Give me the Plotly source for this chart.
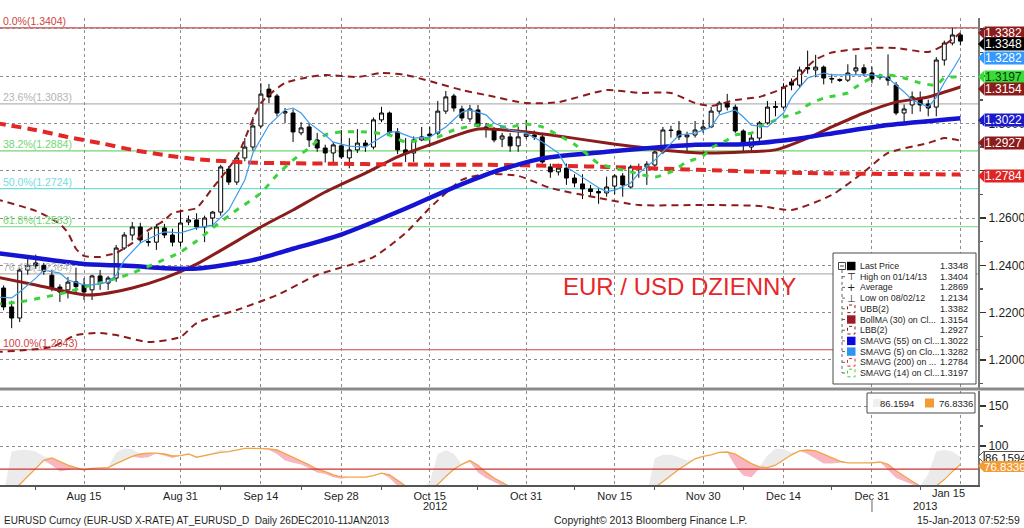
import numpy as np
import pandas as pd
import plotly.graph_objects as go

# ---------------- DATA ----------------
trading_days = pd.bdate_range("2012-07-31", "2013-01-15")
day_pos = {d.strftime("%Y-%m-%d"): k - 1 for k, d in enumerate(trading_days)}
candle_dates = [d.strftime("%Y-%m-%d") for d in trading_days[1:]]

opens = [1.2304,1.2224,1.2177,1.2380,1.2410,1.2400,1.2358,1.2308,1.2296,1.2330,
         1.2317,1.2296,1.2355,1.2325,1.2346,1.2473,1.2528,1.2562,1.2500,1.2498,
         1.2558,1.2528,1.2498,1.2583,1.2592,1.2562,1.2600,1.2625,1.2807,1.2752,
         1.2854,1.2900,1.2989,1.3145,1.3116,1.3044,1.3044,1.2960,1.2985,1.2930,
         1.2896,1.2875,1.2905,1.2854,1.2888,1.2917,1.2900,1.3015,1.3044,1.2964,
         1.2888,1.2875,1.2930,1.2955,1.2959,1.3052,1.3116,1.3061,1.3019,1.3057,
         1.2985,1.2976,1.2934,1.2943,1.2905,1.2945,1.2951,1.2943,1.2816,1.2795,
         1.2811,1.2769,1.2744,1.2723,1.2712,1.2706,1.2735,1.2778,1.2731,1.2816,
         1.2816,1.2824,1.2879,1.2972,1.2968,1.2943,1.2951,1.2976,1.2985,1.3052,
         1.3086,1.3069,1.2968,1.2900,1.2938,1.3002,1.3072,1.3069,1.3175,1.3162,
         1.3236,1.3226,1.3238,1.3190,1.3186,1.3183,1.3222,1.3235,1.3213,1.3196,
         1.3195,1.3162,1.3044,1.3078,1.3107,1.3082,1.3069,1.3268,1.3340,1.3374]
highs = [1.2315,1.2250,1.2390,1.2435,1.2445,1.2410,1.2380,1.2320,1.2350,1.2390,
         1.2346,1.2360,1.2380,1.2355,1.2486,1.2540,1.2583,1.2580,1.2540,1.2575,
         1.2575,1.2555,1.2636,1.2610,1.2620,1.2610,1.2630,1.2825,1.2820,1.2866,
         1.2938,1.3027,1.3170,1.3167,1.3125,1.3065,1.3060,1.3005,1.3000,1.2960,
         1.2910,1.2921,1.2972,1.2938,1.2976,1.2930,1.3025,1.3070,1.3050,1.2980,
         1.2938,1.2945,1.2985,1.2985,1.3095,1.3137,1.3125,1.3075,1.3078,1.3078,
         1.3002,1.2985,1.2960,1.2960,1.2985,1.3015,1.2970,1.2960,1.2830,1.2830,
         1.2830,1.2785,1.2785,1.2740,1.2725,1.2775,1.2785,1.2790,1.2825,1.2830,
         1.2840,1.2885,1.2985,1.2990,1.3010,1.2965,1.3010,1.3015,1.3070,1.3095,
         1.3125,1.3080,1.2975,1.2955,1.3010,1.3095,1.3095,1.3170,1.3190,1.3240,
         1.3308,1.3290,1.3245,1.3210,1.3190,1.3250,1.3290,1.3250,1.3240,1.3210,
         1.3292,1.3175,1.3080,1.3135,1.3135,1.3100,1.3280,1.3350,1.3404,1.3382]
lows = [1.2210,1.2134,1.2160,1.2360,1.2385,1.2360,1.2290,1.2245,1.2260,1.2287,
        1.2253,1.2253,1.2296,1.2296,1.2330,1.2465,1.2505,1.2495,1.2480,1.2465,
        1.2515,1.2480,1.2480,1.2570,1.2550,1.2498,1.2562,1.2610,1.2740,1.2740,
        1.2840,1.2885,1.2980,1.3086,1.3030,1.3002,1.2921,1.2950,1.2900,1.2880,
        1.2835,1.2835,1.2850,1.2810,1.2875,1.2880,1.2890,1.3005,1.2950,1.2870,
        1.2837,1.2837,1.2925,1.2900,1.2950,1.3040,1.3050,1.3010,1.3005,1.2985,
        1.2940,1.2920,1.2900,1.2880,1.2880,1.2935,1.2930,1.2830,1.2770,1.2780,
        1.2740,1.2730,1.2680,1.2690,1.2660,1.2690,1.2700,1.2690,1.2725,1.2770,
        1.2740,1.2810,1.2870,1.2940,1.2930,1.2880,1.2940,1.2960,1.2980,1.3040,
        1.3055,1.2960,1.2880,1.2880,1.2925,1.2995,1.3030,1.3060,1.3140,1.3150,
        1.3210,1.3195,1.3165,1.3170,1.3175,1.3175,1.3205,1.3200,1.3170,1.3185,
        1.3160,1.3035,1.2997,1.3040,1.3050,1.3030,1.3030,1.3245,1.3330,1.3330]
closes = [1.2224,1.2177,1.2380,1.2400,1.2398,1.2375,1.2304,1.2287,1.2329,1.2310,
          1.2287,1.2355,1.2329,1.2346,1.2473,1.2528,1.2562,1.2507,1.2498,1.2562,
          1.2528,1.2498,1.2579,1.2592,1.2562,1.2600,1.2625,1.2816,1.2752,1.2854,
          1.2900,1.2989,1.3124,1.3112,1.3044,1.3050,1.2964,1.2981,1.2930,1.2896,
          1.2875,1.2909,1.2858,1.2888,1.2917,1.2905,1.3015,1.3044,1.2963,1.2888,
          1.2875,1.2930,1.2943,1.2947,1.3052,1.3112,1.3065,1.3023,1.3061,1.2989,
          1.2976,1.2930,1.2947,1.2905,1.2943,1.2955,1.2942,1.2837,1.2795,1.2811,
          1.2769,1.2748,1.2723,1.2712,1.2706,1.2731,1.2778,1.2740,1.2816,1.2814,
          1.2828,1.2879,1.2972,1.2970,1.2943,1.2951,1.2972,1.2985,1.3052,1.3086,
          1.3069,1.2968,1.2917,1.2938,1.3002,1.3069,1.3068,1.3154,1.3162,1.3226,
          1.3230,1.3238,1.3192,1.3188,1.3182,1.3213,1.3235,1.3213,1.3188,1.3194,
          1.3183,1.3044,1.3061,1.3112,1.3078,1.3065,1.3268,1.3340,1.3374,1.3348]

sma200_dates = ["2012-07-31","2012-08-07","2012-08-13","2012-08-17","2012-08-23","2012-08-29",
                "2012-09-04","2012-09-12","2012-09-26","2012-10-10","2012-10-24","2012-11-07",
                "2012-11-14","2012-11-28","2012-12-19","2013-01-15"]
sma200_vals = [1.3002,1.2972,1.2942,1.2917,1.2888,1.2866,1.2849,1.2835,1.2830,1.2826,
               1.2825,1.2820,1.2816,1.2805,1.2790,1.2784]

sma55_dates = ["2012-07-31","2012-08-07","2012-08-15","2012-08-23","2012-08-29","2012-09-04",
               "2012-09-13","2012-09-20","2012-09-28","2012-10-10","2012-10-17","2012-10-25",
               "2012-11-02","2012-11-14","2012-11-21","2012-11-29","2012-12-07","2012-12-17",
               "2012-12-25","2013-01-02","2013-01-15"]
sma55_vals = [1.2452,1.2431,1.2406,1.2397,1.2388,1.2386,1.2422,1.2470,1.2530,1.2640,
              1.2715,1.2795,1.2852,1.2880,1.2895,1.2910,1.2912,1.2932,1.2963,1.2993,1.3022]

bollma_dates = ["2012-07-31","2012-08-07","2012-08-13","2012-08-15","2012-08-17","2012-08-23",
                "2012-08-29","2012-09-04","2012-09-14","2012-09-20","2012-09-26","2012-10-03",
                "2012-10-09","2012-10-15","2012-10-23","2012-10-31","2012-11-07","2012-11-14",
                "2012-11-23","2012-11-30","2012-12-07","2012-12-13","2012-12-19","2012-12-24",
                "2012-12-28","2013-01-03","2013-01-09","2013-01-15"]
bollma_vals = [1.2351,1.2317,1.2287,1.2275,1.2278,1.2304,1.2346,1.2405,1.2562,1.2634,
               1.2710,1.2790,1.2858,1.2909,1.2976,1.2964,1.2942,1.2917,1.2888,1.2875,
               1.2879,1.2888,1.2938,1.2985,1.3044,1.3090,1.3112,1.3154]

ubb_dates = ["2012-07-31","2012-08-07","2012-08-10","2012-08-13","2012-08-14","2012-08-15",
             "2012-08-17","2012-08-20","2012-08-21","2012-08-23","2012-08-27","2012-08-29",
             "2012-08-30","2012-09-03","2012-09-04","2012-09-06","2012-09-11","2012-09-14",
             "2012-09-19","2012-09-24","2012-09-26","2012-10-02","2012-10-05","2012-10-10",
             "2012-10-19","2012-10-24","2012-10-31","2012-11-06","2012-11-14","2012-11-20",
             "2012-11-26","2012-11-29","2012-12-03","2012-12-06","2012-12-11","2012-12-14",
             "2012-12-18","2012-12-19","2012-12-20","2012-12-24","2012-12-26","2012-12-31",
             "2013-01-03","2013-01-09","2013-01-11","2013-01-15"]
ubb_vals = [1.2680,1.2630,1.2575,1.2537,1.2470,1.2440,1.2435,1.2444,1.2452,1.2494,
            1.2549,1.2590,1.2621,1.2634,1.2642,1.2727,1.2858,1.3086,1.3171,1.3196,
            1.3205,1.3196,1.3213,1.3205,1.3141,1.3120,1.3086,1.3090,1.3141,1.3129,
            1.3129,1.3086,1.3074,1.3099,1.3112,1.3150,1.3200,1.3240,1.3270,1.3300,
            1.3310,1.3319,1.3319,1.3302,1.3332,1.3382]

lbb_dates = ["2012-07-31","2012-08-09","2012-08-14","2012-08-17","2012-08-21","2012-08-27",
             "2012-08-31","2012-09-04","2012-09-11","2012-09-18","2012-09-25","2012-10-04",
             "2012-10-10","2012-10-15","2012-10-19","2012-10-24","2012-10-30","2012-11-05",
             "2012-11-13","2012-11-20","2012-11-30","2012-12-11","2012-12-17","2012-12-24",
             "2012-12-28","2013-01-02","2013-01-09","2013-01-11","2013-01-15"]
lbb_vals = [1.2033,1.2055,1.2105,1.2114,1.2105,1.2076,1.2097,1.2156,1.2211,1.2274,
            1.2359,1.2435,1.2537,1.2642,1.2761,1.2786,1.2778,1.2727,1.2685,1.2655,
            1.2655,1.2651,1.2634,1.2697,1.2795,1.2875,1.2917,1.2938,1.2927]

sma14_dates = ["2012-07-31","2012-08-03","2012-08-13","2012-08-15","2012-08-20","2012-08-23",
               "2012-08-28","2012-08-31","2012-09-04","2012-09-06","2012-09-11","2012-09-14",
               "2012-09-18","2012-09-20","2012-09-24","2012-09-26","2012-09-28","2012-10-03",
               "2012-10-08","2012-10-10","2012-10-12","2012-10-16","2012-10-18","2012-10-23",
               "2012-10-29","2012-10-31","2012-11-02","2012-11-06","2012-11-08","2012-11-09",
               "2012-11-12","2012-11-13","2012-11-15","2012-11-19","2012-11-22","2012-11-26",
               "2012-11-27","2012-11-28","2012-11-30","2012-12-03","2012-12-05","2012-12-06",
               "2012-12-10","2012-12-11","2012-12-13","2012-12-14","2012-12-18","2012-12-19",
               "2012-12-21","2012-12-26","2012-12-27","2012-12-31","2013-01-02","2013-01-04",
               "2013-01-08","2013-01-10","2013-01-11","2013-01-15"]
sma14_vals = [1.2236,1.2245,1.2287,1.2308,1.2334,1.2367,1.2410,1.2456,1.2503,1.2558,
              1.2634,1.2706,1.2782,1.2845,1.2896,1.2951,1.2964,1.2964,1.2951,1.2921,
              1.2930,1.2942,1.2972,1.2993,1.2985,1.2998,1.2985,1.2950,1.2912,1.2885,
              1.2858,1.2830,1.2811,1.2795,1.2773,1.2795,1.2816,1.2837,1.2862,1.2896,
              1.2930,1.2951,1.2959,1.2985,1.3014,1.3027,1.3048,1.3078,1.3107,1.3129,
              1.3154,1.3192,1.3205,1.3192,1.3171,1.3162,1.3192,1.3197]

sma5_dates = ["2012-07-31","2012-08-02","2012-08-03","2012-08-07","2012-08-08","2012-08-10",
              "2012-08-13","2012-08-15","2012-08-16","2012-08-20","2012-08-21","2012-08-22",
              "2012-08-24","2012-08-28","2012-08-29","2012-08-31","2012-09-04","2012-09-06",
              "2012-09-10","2012-09-12","2012-09-13","2012-09-17","2012-09-19","2012-09-20",
              "2012-09-21","2012-09-24","2012-09-26","2012-09-27","2012-10-01","2012-10-03",
              "2012-10-04","2012-10-08","2012-10-09","2012-10-11","2012-10-15","2012-10-17",
              "2012-10-19","2012-10-22","2012-10-24","2012-10-25","2012-10-29","2012-10-31",
              "2012-11-02","2012-11-06","2012-11-07","2012-11-09","2012-11-13","2012-11-14",
              "2012-11-15","2012-11-19","2012-11-20","2012-11-22","2012-11-26","2012-11-27",
              "2012-11-29","2012-12-03","2012-12-04","2012-12-06","2012-12-07","2012-12-10",
              "2012-12-12","2012-12-14","2012-12-17","2012-12-19","2012-12-21","2012-12-24",
              "2012-12-26","2012-12-28","2012-12-31","2013-01-02","2013-01-04","2013-01-07",
              "2013-01-09","2013-01-10","2013-01-11","2013-01-14","2013-01-15"]
sma5_vals = [1.2266,1.2262,1.2287,1.2346,1.2380,1.2367,1.2338,1.2317,1.2317,1.2329,
             1.2359,1.2422,1.2494,1.2528,1.2541,1.2537,1.2558,1.2570,1.2634,1.2761,
             1.2875,1.2993,1.3057,1.3065,1.3044,1.3002,1.2951,1.2921,1.2904,1.2900,
             1.2921,1.2964,1.2964,1.2938,1.2942,1.2985,1.3048,1.3057,1.3036,1.3002,
             1.2972,1.2959,1.2921,1.2875,1.2816,1.2773,1.2728,1.2712,1.2718,1.2748,
             1.2790,1.2845,1.2917,1.2951,1.2959,1.2985,1.3036,1.3057,1.3027,1.2993,
             1.2985,1.3044,1.3110,1.3192,1.3213,1.3205,1.3205,1.3205,1.3205,1.3192,
             1.3133,1.3099,1.3069,1.3110,1.3173,1.3225,1.3282]

osc_orange = [40,45,52,62,72,82,85,80,76,73,
              70,72,72.5,73,78,83,87,90,91,91,
              90,87.5,88,90,86,88,90,92,93,95,
              97,97,97,96.5,95,90,85,81,76.5,71,
              68,64,61.5,61,61,61,63,66,64,57,
              50,46,45,46,52,62,71,77,82,76,
              67,60,54,49,45,42,40,39,38,38,
              38,38,38,38,38,38,38,38,39,40,
              40,48,55,63,71,78,84,87,89,92,
              92.5,90,84,78,74,73,76,83,89,94,
              95,94,90,86,81,79,79,79,79,80,
              77,69,62,56,50,47,50,58,68,76.8336]
osc_grey = [40,93,95,95,93,87,76,68,70,72,
            70,72,72.5,73.5,92,97,96,85,86,91,
            88,85,88,90,86,89,92,95,94,95,
            97,97,97,95,90,82,79,77,72,67,
            65,61,59,61,61,61,63,66,60,50,
            45,45,47,55,90,95,90,77,80,67,
            60,55,50,45,43,40,39,38,38,38,
            38,38,38,38,38,38,38,38,39,40,
            40,85,89,89,86,82,84,87,89,92,
            92,75,63,61,72,88,97,96,92,94,
            90,84,78,78,79,79,79,79,79,80,
            70,60,56,52,48,65,93,95,93,86.1594]
osc_level = 71

fib_labels = ["0.0%", "23.6%", "38.2%", "50.0%", "61.8%", "76.4%", "100.0%"]
fib_values = [1.3404, 1.3083, 1.2884, 1.2724, 1.2563, 1.2364, 1.2043]

legend_names = ["Last Price", "High on 01/14/13", "Average", "Low on 08/02/12", "UBB(2)",
                "BollMA (30) on Cl...", "LBB(2)", "SMAVG (55) on Cl...", "SMAVG (5) on Clo...",
                "SMAVG (200) on ...", "SMAVG (14) on Cl..."]
legend_values = [1.3348, 1.3404, 1.2869, 1.2134, 1.3382, 1.3154, 1.2927, 1.3022, 1.3282, 1.2784, 1.3197]

tag_values = [1.3382, 1.3348, 1.3282, 1.3197, 1.3154, 1.3022, 1.2927, 1.2784]
osc_tag_values = [86.1594, 76.8336]

xtick_dates = ["2012-08-15","2012-08-31","2012-09-14","2012-09-28","2012-10-15","2012-10-31",
               "2012-11-15","2012-11-30","2012-12-14","2012-12-31","2013-01-15"]
xtick_labels = ["Aug 15","Aug 31","Sep 14","Sep 28","Oct 15","Oct 31",
                "Nov 15","Nov 30","Dec 14","Dec 31","Jan 15"]
xminor_dates = ["2012-08-07","2012-08-22","2012-09-07","2012-09-21","2012-10-05","2012-10-23",
                "2012-11-08","2012-11-22","2012-12-07","2012-12-24","2013-01-08"]

# ---------------- LAYOUT HELPERS ----------------
W, H = 1024, 528
PW = 978            # plot width in px
T, B = 18, 485      # plot top / bottom in px
PH = B - T
def fx(px): return px / PW
def fy(py): return (B - py) / PH

Y1 = [1.18812, 1.34457]
Y2 = [51.25, 168.75]
U1 = 370.0 / (Y1[1] - Y1[0])   # px per price unit
U2 = 94.0 / (Y2[1] - Y2[0])

FONT = "Liberation Sans, Arial, sans-serif"
C_DRED = "#8c1c1c"

def P(dates):
    return [day_pos[d] for d in dates]

xs = P(candle_dates)
fig = go.Figure()

# lower panel oscillator
O = np.array(osc_orange, float)
G = np.array(osc_grey, float)
hi = np.maximum(O, G)
lo = np.minimum(O, G)
common = dict(x=xs, mode="lines", yaxis="y2", hoverinfo="skip", showlegend=False)
fig.add_trace(go.Scatter(y=O, line=dict(width=0, color="rgba(0,0,0,0)"), **common))
fig.add_trace(go.Scatter(y=hi, fill="tonexty", fillcolor="#ebebeb", line=dict(width=0, color="rgba(0,0,0,0)"), **common))
fig.add_trace(go.Scatter(y=O, line=dict(width=0, color="rgba(0,0,0,0)"), **common))
fig.add_trace(go.Scatter(y=lo, fill="tonexty", fillcolor="#f8b6c0", line=dict(width=0, color="rgba(0,0,0,0)"), **common))
fig.add_trace(go.Scatter(y=O, line=dict(width=1.3, color="#f2a444"), **common))

# candles
fig.add_trace(go.Candlestick(
    x=xs, open=opens, high=highs, low=lows, close=closes,
    increasing=dict(line=dict(color="black", width=1), fillcolor="white"),
    decreasing=dict(line=dict(color="black", width=1), fillcolor="black"),
    whiskerwidth=0, showlegend=False, hoverinfo="skip"))

def add_line(dates, vals, color, width, dash=None, shape="spline"):
    fig.add_trace(go.Scatter(x=P(dates), y=vals, mode="lines",
                             line=dict(color=color, width=width, dash=dash, shape=shape, smoothing=0.6),
                             hoverinfo="skip", showlegend=False))

add_line(ubb_dates, ubb_vals, C_DRED, 2, "7px,5px")
add_line(lbb_dates, lbb_vals, C_DRED, 2, "7px,5px")
add_line(bollma_dates, bollma_vals, C_DRED, 3)
add_line(sma200_dates, sma200_vals, "#e32626", 4, "10px,6px")
add_line(sma55_dates, sma55_vals, "#1414d2", 4.5)
add_line(sma14_dates, sma14_vals, "#3ad43a", 3, "6px,7px")
add_line(sma5_dates, sma5_vals, "#3d9be9", 1.2, None, "linear")

shapes = []
annotations = []

# fib lines + labels
fib_colors = ["#cc4444", "#b4b4b4", "#72d672", "#74dcdc", "#72d672", "#b4b4b4", "#cc4444"]
for lab, v, c in zip(fib_labels, fib_values, fib_colors):
    shapes.append(dict(type="line", xref="paper", yref="y", x0=0, x1=1, y0=v, y1=v,
                       line=dict(color=c, width=1.2), layer="below"))
    annotations.append(dict(xref="paper", yref="y", x=fx(2), y=v, xanchor="left", yanchor="bottom",
                            text=f"{lab}({v:.4f})", showarrow=False, borderpad=0,
                            font=dict(size=10.5, color=c, family=FONT)))

# lower-panel level line
shapes.append(dict(type="line", xref="paper", yref="y2", x0=0, x1=1, y0=osc_level, y1=osc_level,
                   line=dict(color="#cc3333", width=1.2), layer="above"))

# separator between panels
shapes.append(dict(type="line", xref="paper", yref="paper", x0=0, x1=W / PW, y0=fy(389), y1=fy(389),
                   line=dict(color="#8a8a8a", width=3), layer="above"))
# small year separator mark under Dec 31
shapes.append(dict(type="line", xref="x", yref="paper", x0=day_pos["2012-12-31"], x1=day_pos["2012-12-31"],
                   y0=fy(499), y1=fy(512), line=dict(color="#999999", width=1.5)))

# value tags on the right axis
tag_colors = ["#8c1c1c", "#000000", "#3399ff", "#36dd36", "#8c1c1c", "#1a1acc", "#8c1c1c", "#e02424"]
tag_text = ["white", "white", "white", "#123312", "white", "white", "white", "white"]
tag_shift = [0, -3, -1, 0, -2, -2, -2, -1.5]
tip = 6.0 / PW
for v, c, tc, s in zip(tag_values, tag_colors, tag_text, tag_shift):
    vc = v + s / U1
    h = 6.0 / U1
    shapes.append(dict(type="path", xref="paper", yref="y",
                       path=f"M 1,{vc} L {1 + tip},{vc + h} L {1 + tip},{vc - h} Z",
                       fillcolor=c, line=dict(width=0), layer="above"))
    annotations.append(dict(xref="paper", yref="y", x=1 + tip, y=v, yshift=s, xanchor="left",
                            yanchor="middle", text=f"{v:.4f}", showarrow=False, bgcolor=c,
                            borderpad=0, height=12, width=42, align="left",
                            font=dict(size=12, color=tc, family=FONT)))

osc_tag_bg = ["white", "#f39c34"]
osc_tag_fg = ["#111111", "white"]
osc_tag_shift = [0, -1.5]
for v, c, tc, s in zip(osc_tag_values, osc_tag_bg, osc_tag_fg, osc_tag_shift):
    vc = v + s / U2
    h = 6.0 / U2
    shapes.append(dict(type="path", xref="paper", yref="y2",
                       path=f"M 1,{vc} L {1 + tip},{vc + h} L {1 + tip},{vc - h} Z",
                       fillcolor=c, line=dict(width=1 if c == "white" else 0, color="#555"), layer="above"))
    annotations.append(dict(xref="paper", yref="y2", x=1 + tip, y=v, yshift=s, xanchor="left",
                            yanchor="middle", text=f"{v:.4f}", showarrow=False, bgcolor=c,
                            bordercolor="#555" if c == "white" else c, borderwidth=1 if c == "white" else 0,
                            borderpad=0, height=11, width=40, align="left",
                            font=dict(size=11.5, color=tc, family=FONT)))

# main legend box
shapes.append(dict(type="rect", xref="paper", yref="paper", x0=fx(833), x1=fx(976), y0=fy(384), y1=fy(253),
                   line=dict(color="#4a4a4a", width=1), fillcolor="white", layer="above"))
row_y = [266 + k * 10.7 for k in range(len(legend_names))]
shapes.append(dict(type="line", xref="paper", yref="paper", x0=fx(842), x1=fx(842), y0=fy(270), y1=fy(row_y[-1]),
                   line=dict(color="#666", width=1, dash="dot"), layer="above"))
shapes.append(dict(type="rect", xref="paper", yref="paper", x0=fx(838.5), x1=fx(845.5), y0=fy(269.5), y1=fy(262.5),
                   line=dict(color="#444", width=1), fillcolor="white", layer="above"))
shapes.append(dict(type="line", xref="paper", yref="paper", x0=fx(840), x1=fx(844), y0=fy(266), y1=fy(266),
                   line=dict(color="#444", width=1), layer="above"))
icon_kind = ["fill", "glyph", "glyph", "glyph", "dash", "fill", "dash", "fill", "fill", "dash", "dash"]
icon_color = ["#000000", "#222", "#222", "#222", C_DRED, "#9b1b26", C_DRED, "#0a0adf", "#2f93ef", "#e03030", "#3ad43a"]
glyphs = {1: "⊤", 2: "+", 3: "⊥"}
for k, (name, val, kind, col) in enumerate(zip(legend_names, legend_values, icon_kind, icon_color)):
    ry = row_y[k]
    if k > 0:
        shapes.append(dict(type="line", xref="paper", yref="paper", x0=fx(842), x1=fx(846), y0=fy(ry), y1=fy(ry),
                           line=dict(color="#666", width=1, dash="dot"), layer="above"))
    if kind == "fill":
        shapes.append(dict(type="rect", xref="paper", yref="paper", x0=fx(847), x1=fx(855.5),
                           y0=fy(ry + 4.2), y1=fy(ry - 4.2), line=dict(width=0), fillcolor=col, layer="above"))
    elif kind == "dash":
        shapes.append(dict(type="rect", xref="paper", yref="paper", x0=fx(847.5), x1=fx(855),
                           y0=fy(ry + 3.8), y1=fy(ry - 3.8), line=dict(width=1, color=col, dash="dot"),
                           fillcolor="white", layer="above"))
    else:
        annotations.append(dict(xref="paper", yref="paper", x=fx(851), y=fy(ry), xanchor="center",
                                yanchor="middle", text=glyphs[k], showarrow=False,
                                font=dict(size=10, color=col, family="DejaVu Sans")))
    annotations.append(dict(xref="paper", yref="paper", x=fx(857.5), y=fy(ry), xanchor="left", yanchor="middle",
                            text=name, showarrow=False, font=dict(size=8.8, color="#1e1e1e", family=FONT)))
    annotations.append(dict(xref="paper", yref="paper", x=fx(970), y=fy(ry), xanchor="right", yanchor="middle",
                            text=f"{val:.4f}", showarrow=False, font=dict(size=9.2, color="#1e1e1e", family=FONT)))

# lower legend box
shapes.append(dict(type="rect", xref="paper", yref="paper", x0=fx(867), x1=fx(975), y0=fy(413), y1=fy(393),
                   line=dict(color="#4a4a4a", width=1), fillcolor="white", layer="above"))
shapes.append(dict(type="rect", xref="paper", yref="paper", x0=fx(873), x1=fx(881), y0=fy(407), y1=fy(399),
                   line=dict(width=0), fillcolor="#efefef", layer="above"))
shapes.append(dict(type="rect", xref="paper", yref="paper", x0=fx(925), x1=fx(934), y0=fy(407.5), y1=fy(398.5),
                   line=dict(width=0), fillcolor="#f39c34", layer="above"))
annotations.append(dict(xref="paper", yref="paper", x=fx(916), y=fy(403), xanchor="right", yanchor="middle",
                        text=f"{osc_tag_values[0]:.4f}", showarrow=False, font=dict(size=9.5, color="#1e1e1e", family=FONT)))
annotations.append(dict(xref="paper", yref="paper", x=fx(937), y=fy(403), xanchor="left", yanchor="middle",
                        text=f"{osc_tag_values[1]:.4f}", showarrow=False, font=dict(size=9.5, color="#1e1e1e", family=FONT)))

# title
annotations.append(dict(xref="paper", yref="paper", x=fx(679), y=fy(286), xanchor="center", yanchor="middle",
                        text="EUR / USD DZIENNY", showarrow=False,
                        font=dict(size=24, color="#e8262a", family=FONT)))

# x labels extras
annotations.append(dict(xref="paper", yref="paper", x=fx(948), y=fy(493), xanchor="center", yanchor="middle",
                        text=xtick_labels[-1], showarrow=False, font=dict(size=11, color="#1e1e1e", family=FONT)))
annotations.append(dict(xref="x", yref="paper", x=day_pos["2012-10-15"], xshift=5, y=fy(506), xanchor="center",
                        yanchor="middle", text="2012", showarrow=False, font=dict(size=11, color="#1e1e1e", family=FONT)))
annotations.append(dict(xref="x", yref="paper", x=day_pos["2013-01-15"], xshift=-35, y=fy(506), xanchor="center",
                        yanchor="middle", text="2013", showarrow=False, font=dict(size=11, color="#1e1e1e", family=FONT)))

# footer
annotations.append(dict(xref="paper", yref="paper", x=fx(2), y=fy(520), xanchor="left", yanchor="middle",
                        text="EURUSD Curncy (EUR-USD X-RATE) AT_EURUSD_D &nbsp;Daily 26DEC2010-11JAN2013",
                        showarrow=False, font=dict(size=10, color="#1e1e1e", family=FONT)))
annotations.append(dict(xref="paper", yref="paper", x=fx(552), y=fy(520), xanchor="left", yanchor="middle",
                        text="Copyright© 2013 Bloomberg Finance L.P.", showarrow=False,
                        font=dict(size=10.5, color="#1e1e1e", family=FONT)))
annotations.append(dict(xref="paper", yref="paper", x=fx(1022), y=fy(520), xanchor="right", yanchor="middle",
                        text="15-Jan-2013 07:52:59", showarrow=False,
                        font=dict(size=10.5, color="#1e1e1e", family=FONT)))

y1_ticks = [1.20, 1.22, 1.24, 1.26, 1.28, 1.30, 1.32, 1.34]
y1_text = ["1.2000", "1.2200", "1.2400", "1.2600", "", "1.3000", "", ""]

fig.update_layout(
    width=W, height=H,
    margin=dict(l=0, r=W - PW, t=T, b=H - B, pad=0),
    paper_bgcolor="white", plot_bgcolor="white",
    showlegend=False,
    font=dict(family=FONT, size=11, color="#1e1e1e"),
    xaxis=dict(domain=[0, 1], anchor="y2", range=[-0.45, 121.19],
               tickmode="array", tickvals=P(xtick_dates), ticktext=xtick_labels[:-1] + [""],
               showgrid=True, gridcolor="#8c8c8c", griddash="dot", gridwidth=1,
               showline=True, linecolor="#555", linewidth=1.5, ticks="", zeroline=False,
               tickfont=dict(size=11, family=FONT, color="#1e1e1e"),
               minor=dict(tickmode="array", tickvals=P(xminor_dates), ticks="outside", ticklen=3,
                          tickcolor="#555", showgrid=False),
               rangeslider=dict(visible=False), fixedrange=True),
    yaxis=dict(domain=[fy(388), 1], anchor="x", side="right", range=Y1,
               tickmode="array", tickvals=y1_ticks, ticktext=y1_text,
               showgrid=True, gridcolor="#8c8c8c", griddash="dot", gridwidth=1, zeroline=False,
               ticks="outside", ticklen=6, tickwidth=1.5, tickcolor="#333",
               minor=dict(dtick=0.01, tick0=1.2, ticks="outside", ticklen=3, tickcolor="#555", showgrid=False),
               showline=True, linecolor="#777", linewidth=2,
               tickfont=dict(size=12, family=FONT, color="#1e1e1e")),
    yaxis2=dict(domain=[0, fy(391)], anchor="x", side="right", range=Y2,
                tickmode="array", tickvals=[100, 150], ticktext=["100", "150"],
                showgrid=True, gridcolor="#8c8c8c", griddash="dot", gridwidth=1, zeroline=False,
                ticks="outside", ticklen=6, tickwidth=1.5, tickcolor="#333",
                minor=dict(dtick=25, tick0=0, ticks="outside", ticklen=3, tickcolor="#555", showgrid=False),
                showline=True, linecolor="#777", linewidth=2,
                tickfont=dict(size=12, family=FONT, color="#1e1e1e")),
    shapes=shapes,
    annotations=annotations,
)

fig.write_html("out.html", config={"displayModeBar": False, "staticPlot": True},
               post_script="document.body.style.margin='0px';")
